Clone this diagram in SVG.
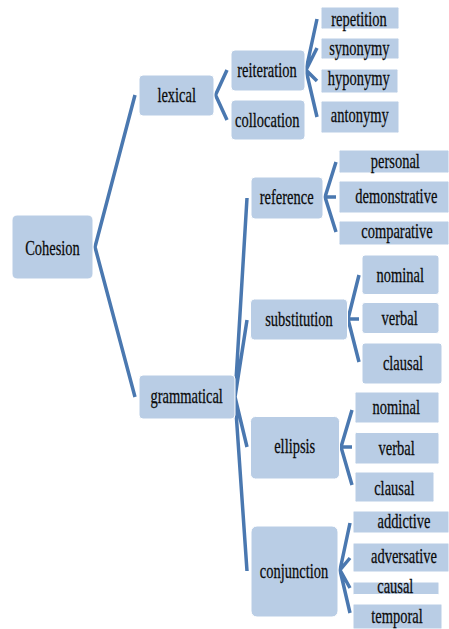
<svg xmlns="http://www.w3.org/2000/svg" width="449" height="629" viewBox="0 0 449 629">
<style>
.box{fill:#b9cde5;stroke:#ffffff;stroke-width:1}
.lbl{font-family:"Liberation Serif","Times New Roman","DejaVu Serif",serif;font-size:21px;fill:#0a0a0a;stroke:#0a0a0a;stroke-width:0.25;text-anchor:middle}
.conn{fill:none;stroke:#4a78b0;stroke-width:3.5;stroke-linejoin:round;stroke-linecap:butt}
</style>
<rect width="449" height="629" fill="#ffffff"/>
<g id="connectors" class="conn">
<path d="M135,95 L95,247 L135,397"/>
<path d="M227,70 L215.5,95 L227,120"/>
<path d="M317,19 L306,70 L317,48 M306,70 L317,81 M306,70 L317,117"/>
<path d="M247,198 L235,397 L247,320 M235,397 L247,447 M235,397 L247,571"/>
<path d="M336,162 L325,197 L336,232 M325,197 L336,197"/>
<path d="M359,275 L348,319 L359,362 M348,319 L359,319"/>
<path d="M352,410 L341,447 L352,485 M341,447 L352,447"/>
<path d="M350,523 L340,570 L350,613 M340,570 L350,558 M340,570 L350,588"/>
</g>
<g id="n-cohesion"><rect class="box" x="12" y="215" width="81" height="64" rx="5"/><text class="lbl" transform="translate(52.5,254.5) scale(0.69,1)">Cohesion</text></g>
<g id="n-lexical"><rect class="box" x="139" y="75" width="75" height="41" rx="4"/><text class="lbl" transform="translate(176.7,102) scale(0.69,1)">lexical</text></g>
<g id="n-grammatical"><rect class="box" x="139" y="375" width="96" height="44" rx="4"/><text class="lbl" transform="translate(186.7,403.3) scale(0.69,1)">grammatical</text></g>
<g id="n-reiteration"><rect class="box" x="231" y="50" width="74" height="41" rx="4"/><text class="lbl" transform="translate(267,76.7) scale(0.69,1)">reiteration</text></g>
<g id="n-collocation"><rect class="box" x="231" y="100" width="74" height="40" rx="4"/><text class="lbl" transform="translate(267.3,127.3) scale(0.69,1)">collocation</text></g>
<g id="n-repetition"><rect class="box" x="321" y="7" width="78" height="22" rx="1.5"/><text class="lbl" transform="translate(359,26) scale(0.69,1)">repetition</text></g>
<g id="n-synonymy"><rect class="box" x="321" y="38" width="78" height="21" rx="1.5"/><text class="lbl" transform="translate(359.3,55) scale(0.69,1)">synonymy</text></g>
<g id="n-hyponymy"><rect class="box" x="321" y="69" width="77" height="24" rx="1.5"/><text class="lbl" transform="translate(358.7,85) scale(0.69,1)">hyponymy</text></g>
<g id="n-antonymy"><rect class="box" x="321" y="101" width="78" height="32" rx="1.5"/><text class="lbl" transform="translate(359.7,121.7) scale(0.69,1)">antonymy</text></g>
<g id="n-reference"><rect class="box" x="251" y="177" width="72" height="42" rx="4"/><text class="lbl" transform="translate(286.7,204.3) scale(0.69,1)">reference</text></g>
<g id="n-personal"><rect class="box" x="339" y="150" width="110" height="23" rx="1.5"/><text class="lbl" transform="translate(395.3,167.7) scale(0.69,1)">personal</text></g>
<g id="n-demonstrative"><rect class="box" x="339" y="181" width="110" height="32" rx="1.5"/><text class="lbl" transform="translate(396.3,203.3) scale(0.69,1)">demonstrative</text></g>
<g id="n-comparative"><rect class="box" x="339" y="221" width="110" height="24" rx="1.5"/><text class="lbl" transform="translate(397,238.3) scale(0.69,1)">comparative</text></g>
<g id="n-substitution"><rect class="box" x="250.5" y="299" width="97" height="41" rx="4"/><text class="lbl" transform="translate(299,326) scale(0.69,1)">substitution</text></g>
<g id="n-sub-nominal"><rect class="box" x="362" y="255" width="77" height="39.5" rx="3"/><text class="lbl" transform="translate(400.3,281.7) scale(0.69,1)">nominal</text></g>
<g id="n-sub-verbal"><rect class="box" x="362" y="302.5" width="77" height="31" rx="3"/><text class="lbl" transform="translate(399.7,325) scale(0.69,1)">verbal</text></g>
<g id="n-sub-clausal"><rect class="box" x="362" y="343" width="80" height="41" rx="3"/><text class="lbl" transform="translate(403,370) scale(0.69,1)">clausal</text></g>
<g id="n-ellipsis"><rect class="box" x="250.5" y="416.5" width="89" height="62.5" rx="5"/><text class="lbl" transform="translate(294.7,453.3) scale(0.69,1)">ellipsis</text></g>
<g id="n-ell-nominal"><rect class="box" x="355" y="392" width="84" height="31" rx="1.5"/><text class="lbl" transform="translate(396.3,414.3) scale(0.69,1)">nominal</text></g>
<g id="n-ell-verbal"><rect class="box" x="355" y="432.5" width="84" height="31.5" rx="1.5"/><text class="lbl" transform="translate(396.7,455) scale(0.69,1)">verbal</text></g>
<g id="n-ell-clausal"><rect class="box" x="355" y="472" width="79" height="30" rx="1.5"/><text class="lbl" transform="translate(394.3,495) scale(0.69,1)">clausal</text></g>
<g id="n-conjunction"><rect class="box" x="251" y="526" width="87" height="91" rx="6"/><text class="lbl" transform="translate(294,577.7) scale(0.69,1)">conjunction</text></g>
<g id="n-addictive"><rect class="box" x="353" y="511" width="96" height="22" rx="1"/><text class="lbl" transform="translate(404,528.3) scale(0.69,1)">addictive</text></g>
<g id="n-adversative"><rect class="box" x="353" y="543" width="96" height="29" rx="1"/><text class="lbl" transform="translate(404,563.3) scale(0.69,1)">adversative</text></g>
<g id="n-causal"><rect class="box" x="353" y="582" width="86" height="12.5" rx="1"/><text class="lbl" transform="translate(395.3,593.3) scale(0.69,1)">causal</text></g>
<g id="n-temporal"><rect class="box" x="353" y="604" width="89" height="25" rx="1"/><text class="lbl" transform="translate(397,623.3) scale(0.69,1)">temporal</text></g>
</svg>
